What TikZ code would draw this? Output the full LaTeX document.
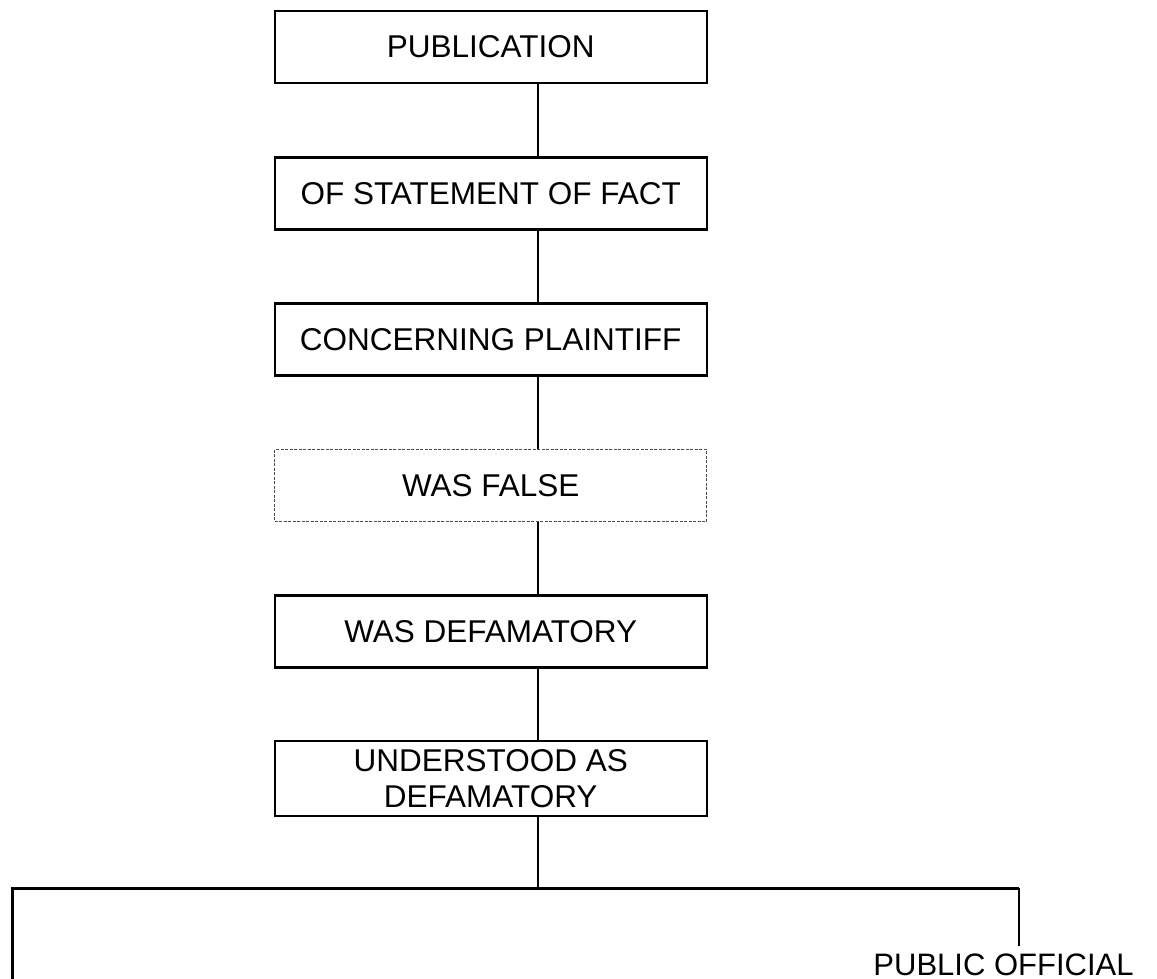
\documentclass[tikz,border=0pt]{standalone}
\usepackage{fontspec}
\setmainfont{Liberation Sans}
\begin{document}
\begin{tikzpicture}[x=1pt,y=1pt,
  box/.style={draw=black,line width=2.2pt,minimum width=432pt,minimum height=72pt,inner sep=0pt,
    font=\fontsize{31.5}{36}\selectfont,align=center},
  dbox/.style={box,draw=black!70,line width=1.2pt,dash pattern=on 3pt off 1.5pt},
  conn/.style={line width=2pt},
  bus/.style={line width=3pt}]
\useasboundingbox (0,0) rectangle (1157,-978);
\coordinate (spine) at (538,0);
\node[box] (b1) at (490.7,-47) {PUBLICATION};
\node[box] (b2) at (490.7,-193.5) {OF STATEMENT OF FACT};
\node[box] (b3) at (490.7,-339.5) {CONCERNING PLAINTIFF};
\node[dbox] (b4) at (490.7,-485.5) {WAS FALSE};
\node[box] (b5) at (490.7,-631.5) {WAS DEFAMATORY};
\node[box,minimum height=75pt] (b6) at (490.7,-778.5) {UNDERSTOOD AS\\DEFAMATORY};
\node[anchor=base,font=\fontsize{31}{36}\selectfont,inner sep=0pt,text depth=0pt] (po) at (1003.5,-975) {PUBLIC OFFICIAL};
\coordinate (bj) at (538,-888);
\coordinate (bl) at (12,-888);
\coordinate (br) at (1019,-888);
\coordinate (blend) at (12,-980);
\coordinate (brend) at (1019,-946);
\draw[conn] (b1.south -| spine) -- (b2.north -| spine);
\draw[conn] (b2.south -| spine) -- (b3.north -| spine);
\draw[conn] (b3.south -| spine) -- (b4.north -| spine);
\draw[conn] (b4.south -| spine) -- (b5.north -| spine);
\draw[conn] (b5.south -| spine) -- (b6.north -| spine);
\draw[conn] (b6.south -| spine) -- (bj);
\draw[bus] (blend) -- (bl) -- (br);
\draw[conn] (br) -- (brend);
\end{tikzpicture}
\end{document}
